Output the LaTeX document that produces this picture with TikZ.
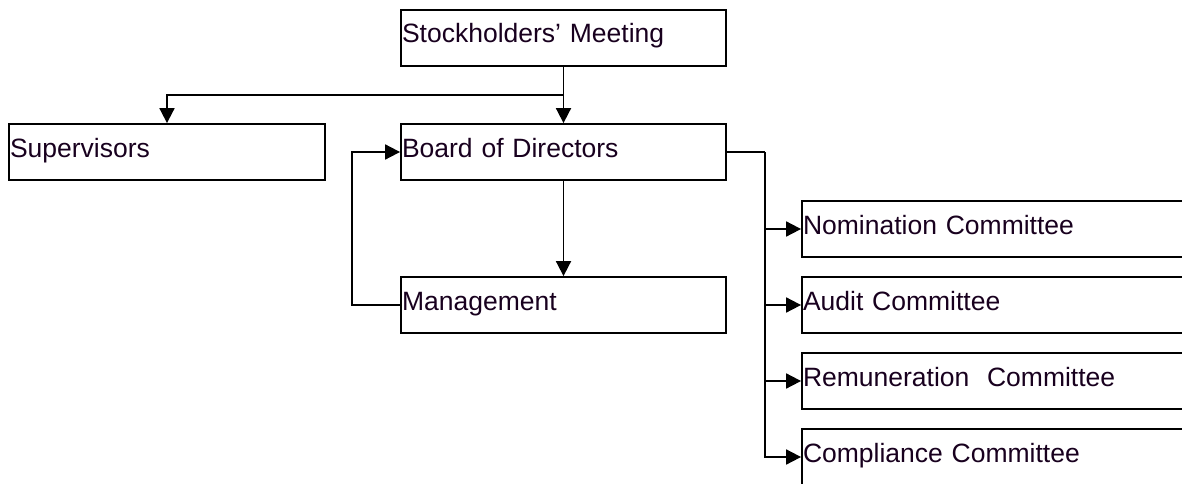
\documentclass[tikz,border=0pt]{standalone}
\usepackage{fontspec}
\setmainfont{Liberation Sans}
\usetikzlibrary{arrows.meta,positioning}
\definecolor{textpurple}{RGB}{24,0,30}
\tikzstyle{unit}=[draw,rectangle,line width=1.8pt,text=textpurple,
  font=\fontsize{26.5}{30}\selectfont,inner xsep=1pt,inner ysep=0pt,
  text width=323pt,align=left,text height=33pt,text depth=23pt]
\tikzstyle{link}=[line width=1.8pt]

\begin{document}
\begin{tikzpicture}[x=1pt, y=-1pt, >={Triangle[length=15pt,width=15pt]},
    node distance=76pt, on grid]
  \useasboundingbox (0,0) rectangle (1182,484);
  \clip (0,0) rectangle (1182,484);

  \node[unit] (sm) at (563.5,38) {Stockholders' Meeting};
  \node[unit] (bod) at (563.5,152) {Board of Directors};
  \node[unit] (mgmt) at (563.5,305) {Management};
  \node[unit, text width=314pt] (sup) at (167,152) {Supervisors};
%  committees run off the right edge
  \node[unit, text width=398pt] (nom) at (1002,229) {Nomination Committee};
  \node[unit, text width=398pt, below=of nom] (aud) {Audit Committee};
  \node[unit, text width=398pt, below=of aud] (rem) {Remuneration\ \ Committee};
  \node[unit, text width=398pt, below=of rem] (comp) {Compliance Committee};

  \draw[link,->] (sm.south) -- (bod.north);
  \draw[link,->] (sm.south) -- ++(0,28) -| (sup.north);
  \draw[link,->] (bod.south) -- (mgmt.north);
  \draw[link,->] (mgmt.west) -- ++(-48,0) |- (bod.west);
  \draw[link] (bod.east) -- ++(38,0) coordinate (trunk);
  \foreach \c in {nom,aud,rem,comp}
    \draw[link,->] (trunk) |- (\c.west);
\end{tikzpicture}
\end{document}
